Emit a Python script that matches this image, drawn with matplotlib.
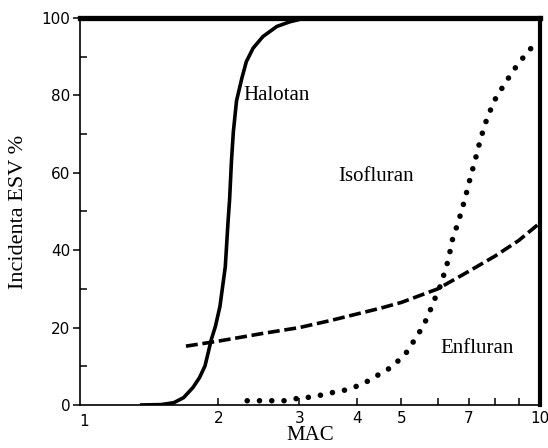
import matplotlib
matplotlib.use("Agg")
import matplotlib.pyplot as plt
from matplotlib.ticker import FixedLocator, NullFormatter

# Halotan (solid)
hal_x = [1.35, 1.50, 1.60, 1.68, 1.76, 1.82, 1.87, 1.90, 1.93, 1.97, 2.015, 2.07, 2.10,
         2.115, 2.135, 2.155, 2.19, 2.25, 2.30, 2.38, 2.50, 2.68, 2.86, 3.0]
hal_y = [0, 0.1, 0.6, 1.9, 4.5, 7.1, 10.1, 13.5, 16.9, 20.3, 25.4, 35.7, 47.8,
         53, 63, 70.5, 78.6, 84.5, 88.7, 92.2, 95.2, 97.8, 99.0, 99.6]

# Enfluran (dashed)
enf_x = [1.7, 2.0, 2.5, 3.0, 3.5, 4.0, 4.5, 5.0, 6.0, 7.0, 8.0, 9.0, 10.0]
enf_y = [15.2, 16.5, 18.5, 20.0, 21.8, 23.5, 25.0, 26.5, 30.0, 34.5, 38.5, 42.5, 47.0]

# Isofluran (dotted)
iso_x = [2.31, 2.79, 2.97, 3.15, 3.36, 3.57, 3.79, 4.01, 4.25, 4.47, 4.70, 4.90, 5.11,
         5.26, 5.41, 5.56, 5.70, 5.81, 5.93, 6.06, 6.16, 6.25, 6.34, 6.46, 6.67, 6.87,
         7.04, 7.25, 7.44, 7.68, 7.98, 8.44, 8.99, 9.67]
iso_y = [1.1, 1.1, 1.7, 2.0, 2.6, 3.3, 3.9, 4.9, 6.3, 7.9, 9.4, 11.2, 13.3,
         15.6, 17.8, 20.2, 22.7, 25.2, 27.8, 30.4, 33.0, 35.3, 38.1, 42.8, 47.8, 53.1,
         58.1, 63.7, 68.9, 74.1, 78.8, 83.5, 88.3, 92.8]

x_ticks = [2, 3, 4, 5, 6, 7, 8, 9, 10]
x_labels = {2: "2", 3: "3", 4: "4", 5: "5", 7: "7", 10: "10"}
y_ticks = [0, 20, 40, 60, 80, 100]

serif = "Liberation Serif"

fig = plt.figure(figsize=(5.48, 4.48), dpi=100)
ax = fig.add_axes([0.146, 0.096, 0.839, 0.864])

ax.plot(hal_x, hal_y, color="black", lw=2.6, solid_capstyle="butt", solid_joinstyle="round")
ax.plot(enf_x, enf_y, color="black", lw=2.6, linestyle=(0, (3.3, 1.3)), dash_capstyle="butt")
ax.plot(iso_x, iso_y, color="black", lw=4.0, linestyle=(0, (0.01, 2.2)), dash_capstyle="round")

ax.set_xscale("log")
ax.set_xlim(1, 10)
ax.set_ylim(0, 100)

ax.xaxis.set_major_locator(FixedLocator(x_ticks))
ax.xaxis.set_minor_locator(FixedLocator([]))
ax.xaxis.set_minor_formatter(NullFormatter())
ax.set_xticks(x_ticks)
ax.set_xticklabels([x_labels.get(t, "") for t in x_ticks])
ax.tick_params(axis="x", direction="in", length=5, width=1.1, labelsize=11, pad=4)
# "1" label at the left end, no tick mark there
ax.text(1.02, -2.2, "1", ha="center", va="top", fontsize=11)

ax.set_yticks(y_ticks)
ax.set_yticks([10, 30, 50, 70, 90], minor=True)
ax.tick_params(axis="y", which="major", direction="out", length=5, width=1.1, labelsize=11, pad=2)
ax.tick_params(axis="y", which="minor", direction="in", length=5, width=1.1)

ax.spines["left"].set_linewidth(1.2)
ax.spines["bottom"].set_linewidth(1.2)
ax.spines["top"].set_linewidth(3.8)
ax.spines["right"].set_linewidth(3.0)

ax.set_xlabel("MAC", family=serif, fontsize=15, labelpad=0)
ax.set_ylabel("Incidenta ESV %", family=serif, fontsize=16, labelpad=10)

ax.text(2.27, 80, "Halotan", family=serif, fontsize=15, ha="left", va="center")
ax.text(4.4, 59, "Isofluran", family=serif, fontsize=15, ha="center", va="center")
ax.text(7.3, 14.5, "Enfluran", family=serif, fontsize=15, ha="center", va="center")

fig.savefig("out.png", dpi=100)
